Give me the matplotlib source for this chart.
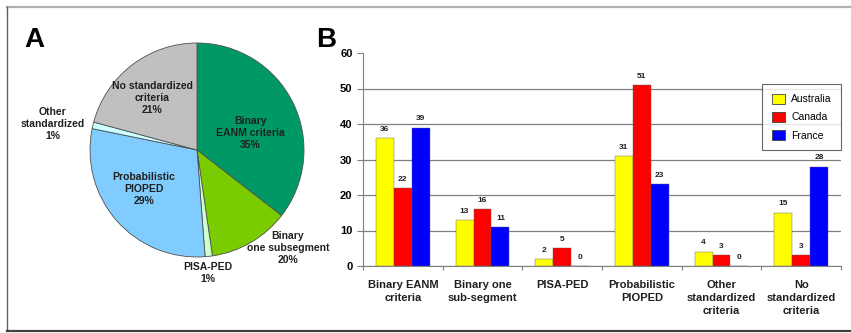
import numpy as np
import matplotlib
matplotlib.use("Agg")
import matplotlib.pyplot as plt
from matplotlib.lines import Line2D

plt.rcParams['font.family'] = ['Liberation Sans', 'DejaVu Sans']

# panel A: pie (slice sizes as drawn, labels as printed)
pie_sizes = [35.5, 12.2, 1.1, 29.4, 1.0, 20.8]
pie_labels = ["Binary\nEANM criteria\n35%", "Binary\none subsegment\n20%", "PISA-PED\n1%",
              "Probabilistic\nPIOPED\n29%", "Other\nstandardized\n1%", "No standardized\ncriteria\n21%"]
pie_colors = ["#009966", "#7ACC00", "#CCFFCC", "#80CCFF", "#CCFFFF", "#C0C0C0"]
label_pos = [(0.50, 0.16), (0.85, -0.92), (0.10, -1.15), (-0.50, -0.36), (-1.35, 0.24), (-0.42, 0.49)]

# panel B: grouped bars
categories = ["Binary EANM\ncriteria", "Binary one\nsub-segment", "PISA-PED",
              "Probabilistic\nPIOPED", "Other\nstandardized\ncriteria", "No\nstandardized\ncriteria"]
australia = [36, 13, 2, 31, 4, 15]
canada = [22, 16, 5, 51, 3, 3]
france = [39, 11, 0, 23, 0, 28]
series_names = ["Australia", "Canada", "France"]
bar_colors = ["#FFFF00", "#FF0000", "#0000FF"]

W, H = 851, 333
fig = plt.figure(figsize=(W / 100, H / 100), dpi=100)

# outer frame
fig.add_artist(Line2D([7 / W, 1], [1 - 7 / H, 1 - 7 / H], color="#b0b0b0", lw=1.6))
fig.add_artist(Line2D([7 / W, 7 / W], [1 - 7 / H, 1 - 331 / H], color="#606060", lw=1.0))
fig.add_artist(Line2D([7 / W, 1], [1 - 331 / H, 1 - 331 / H], color="#404040", lw=1.6))

# --- A ---
cx, cy, r = 197, 150, 107
axA = fig.add_axes([(cx - r) / W, 1 - (cy + r) / H, 2 * r / W, 2 * r / H])
axA.pie(pie_sizes, colors=pie_colors, startangle=90, counterclock=False,
        wedgeprops=dict(edgecolor="#505050", linewidth=0.6))
axA.set_xlim(-1, 1)
axA.set_ylim(-1, 1)
for lab, (x, y) in zip(pie_labels, label_pos):
    axA.text(x, y, lab, ha="center", va="center", fontsize=7.5, fontweight="bold",
             color="#202020", clip_on=False, linespacing=1.25)

fig.text(24 / W, 1 - 40 / H, "A", fontsize=20, fontweight="bold", va="center", ha="left")
fig.text(316 / W, 1 - 40 / H, "B", fontsize=20, fontweight="bold", va="center", ha="left")

# --- B ---
axB = fig.add_axes([363 / W, 1 - 266 / H, (841 - 363) / W, (266 - 53) / H])
x = np.arange(len(categories))
bw = 0.225
for i, (vals, name, col) in enumerate(zip([australia, canada, france], series_names, bar_colors)):
    pos = x + (i - 1) * bw
    axB.bar(pos, vals, bw, color=col, label=name, edgecolor="#606060", linewidth=0.3, zorder=3)
    for px, v in zip(pos, vals):
        axB.text(px, v + 1.5, str(v), ha="center", va="bottom", fontsize=6,
                 fontweight="bold", color="#202020")

axB.set_xlim(-0.5, len(categories) - 0.5)
axB.set_ylim(0, 60)
axB.set_yticks(range(0, 61, 10))
axB.yaxis.grid(True, color="#808080", linewidth=0.9, zorder=0)
axB.yaxis.get_gridlines()[-1].set_visible(False)
axB.set_axisbelow(True)
for s in ["top", "right"]:
    axB.spines[s].set_visible(False)
axB.spines["left"].set_color("#808080")
axB.spines["bottom"].set_color("#808080")
axB.set_xticks(np.arange(len(categories) + 1) - 0.5, minor=False)
axB.set_xticklabels([])
axB.set_xticks(x, minor=True)
axB.set_xticklabels(categories, minor=True, fontsize=8, fontweight="bold", color="#202020",
                    linespacing=1.4)
axB.tick_params(axis="x", which="minor", length=0, pad=10)
axB.tick_params(axis="x", which="major", length=3, color="#808080")
axB.tick_params(axis="y", length=4, color="#808080", labelsize=8)
for t in axB.get_yticklabels():
    t.set_fontweight("bold")

leg = axB.legend(loc="upper left", bbox_to_anchor=(757 / W, 1 - 79 / H),
                 bbox_transform=fig.transFigure, fontsize=7.5, frameon=True, fancybox=False,
                 handlelength=1.3, handleheight=1.1, borderpad=0.9, labelspacing=0.75,
                 handletextpad=0.6)
leg.get_frame().set_edgecolor("#404040")
leg.get_frame().set_linewidth(0.8)
for h in leg.legend_handles:
    h.set_edgecolor("#404040")
    h.set_linewidth(0.6)

fig.savefig("out.png", dpi=100)
